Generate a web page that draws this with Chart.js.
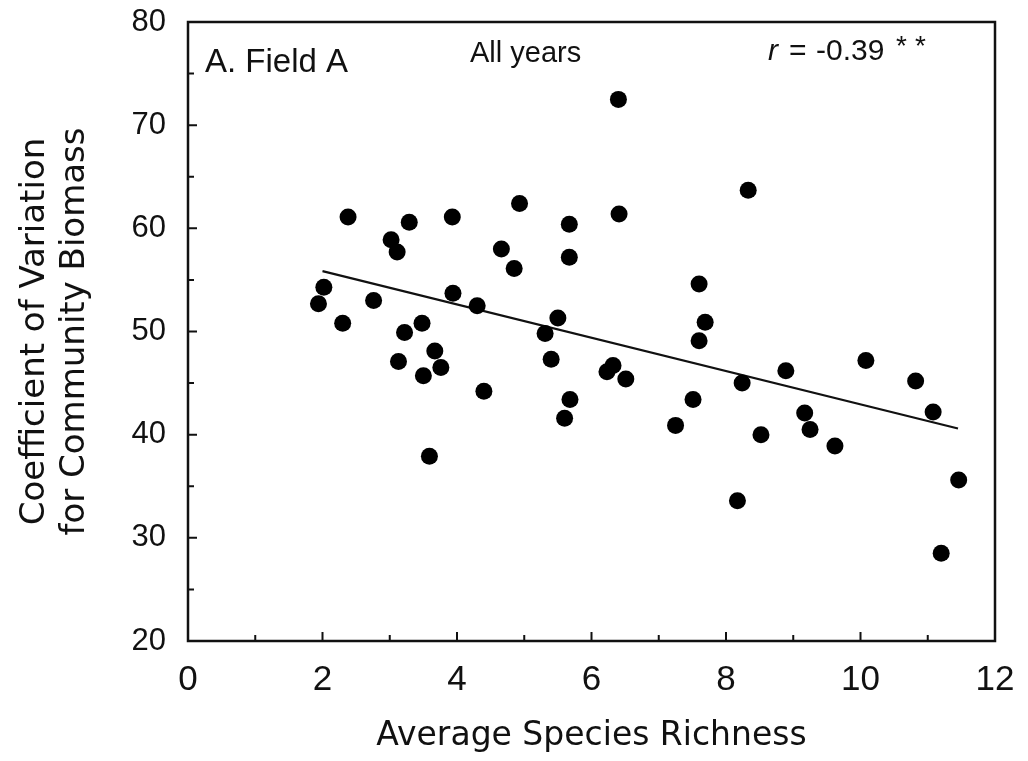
<!DOCTYPE html>
<html>
<head>
<meta charset="utf-8">
<title>Field A - CV vs species richness</title>
<script src="https://cdn.jsdelivr.net/npm/chart.js@4.4.1/dist/chart.umd.min.js"></script>
<style>
    html, body { margin: 0; padding: 0; background: #fff; }
    #wrap { width: 1028px; height: 761px; position: relative; }
</style>
</head>
<body>
<div id="wrap"><canvas id="cvChart"></canvas></div>
<script>
// Plot values, one entry per plot
const richness = [
    1.94, 2.02, 2.30, 2.38, 2.76, 3.02, 3.11, 3.13, 3.22, 3.29,
    3.48, 3.50, 3.59, 3.67, 3.76, 3.93, 3.94, 4.30, 4.40, 4.66,
    4.85, 4.93, 5.31, 5.40, 5.50, 5.60, 5.67, 5.67, 5.68, 6.23,
    6.32, 6.40, 6.41, 6.51, 7.25, 7.51, 7.60, 7.60, 7.69, 8.17,
    8.24, 8.33, 8.52, 8.89, 9.17, 9.25, 9.62, 10.08, 10.82, 11.08,
    11.20, 11.46
];
const cvBiomass = [
    52.7, 54.3, 50.8, 61.1, 53.0, 58.9, 57.7, 47.1, 49.9, 60.6,
    50.8, 45.7, 37.9, 48.1, 46.5, 61.1, 53.7, 52.5, 44.2, 58.0,
    56.1, 62.4, 49.8, 47.3, 51.3, 41.6, 60.4, 57.2, 43.4, 46.1,
    46.7, 72.5, 61.4, 45.4, 40.9, 43.4, 54.6, 49.1, 50.9, 33.6,
    45.0, 63.7, 40.0, 46.2, 42.1, 40.5, 38.9, 47.2, 45.2, 42.2,
    28.5, 35.6
];

// Regression line end points
const fitX = [2.0, 11.45];
const fitY = [55.85, 40.6];

// Labelled ticks (minor ticks in between are unlabelled)
const xTickLabels = [0, 2, 4, 6, 8, 10, 12];
const yTickLabels = [20, 30, 40, 50, 60, 70, 80];

const FONT = '"Liberation Sans", Arial, Helvetica, sans-serif';
const TITLE_FONT = '"DejaVu Sans", "Liberation Sans", sans-serif';

const points = richness.map((x, i) => ({ x: x, y: cvBiomass[i] }));
const fitLine = fitX.map((x, i) => ({ x: x, y: fitY[i] }));

// Box frame plus inward tick marks
const framePlugin = {
    id: 'frame',
    afterDraw(chart) {
        const { ctx, chartArea: a, scales } = chart;
        ctx.save();
        ctx.strokeStyle = '#111';
        ctx.lineWidth = 2.5;
        ctx.strokeRect(a.left, a.top, a.right - a.left, a.bottom - a.top);

        ctx.lineWidth = 2;
        ctx.beginPath();
        scales.x.ticks.forEach(t => {
            const px = scales.x.getPixelForValue(t.value);
            const len = xTickLabels.includes(t.value) ? 9 : 6;
            ctx.moveTo(px, a.bottom);
            ctx.lineTo(px, a.bottom - len);
        });
        scales.y.ticks.forEach(t => {
            const py = scales.y.getPixelForValue(t.value);
            const len = yTickLabels.includes(t.value) ? 9 : 6;
            ctx.moveTo(a.left, py);
            ctx.lineTo(a.left + len, py);
        });
        ctx.stroke();
        ctx.restore();
    }
};

// Panel label, subset note and correlation coefficient
const notesPlugin = {
    id: 'notes',
    afterDraw(chart) {
        const { ctx, chartArea: a } = chart;
        ctx.save();
        ctx.fillStyle = '#111';
        ctx.textBaseline = 'alphabetic';
        ctx.textAlign = 'left';

        ctx.font = '33px ' + FONT;
        ctx.fillText('A. Field A', a.left + 17, a.top + 50);

        ctx.font = '29px ' + FONT;
        ctx.fillText('All years', a.left + 282, a.top + 40);

        const base = a.top + 38;
        ctx.font = 'italic 30px ' + FONT;
        ctx.fillText('r', a.left + 580, base);
        ctx.font = '30px ' + FONT;
        ctx.fillText('=', a.left + 601, base);
        ctx.fillText('-0.39', a.left + 628, base);
        ctx.font = '28px ' + FONT;
        ctx.fillText('*', a.left + 708, base - 5);
        ctx.fillText('*', a.left + 727, base - 5);
        ctx.restore();
    }
};

const ctx = document.getElementById('cvChart').getContext('2d');
const chart = new Chart(ctx, {
    type: 'scatter',
    data: {
        datasets: [
            {
                label: 'Plots',
                data: points,
                backgroundColor: '#000',
                borderColor: '#000',
                pointRadius: 8.5,
                pointHoverRadius: 8.5,
                borderWidth: 0
            },
            {
                label: 'Fit',
                data: fitLine,
                showLine: true,
                borderColor: '#111',
                borderWidth: 2.2,
                pointRadius: 0,
                fill: false
            }
        ]
    },
    options: {
        responsive: true,
        maintainAspectRatio: false,
        devicePixelRatio: 1,
        animation: false,
        layout: { padding: { top: 22, right: 33, left: 0, bottom: 0 } },
        plugins: {
            legend: { display: false },
            tooltip: { enabled: false }
        },
        scales: {
            x: {
                type: 'linear',
                min: 0,
                max: 12,
                // fixed axis band; end labels may overhang the frame
                afterFit: s => { s.height = 120; s.paddingLeft = 0; s.paddingRight = 0; },
                grid: { display: false, drawTicks: false },
                border: { display: false },
                ticks: {
                    stepSize: 1,
                    autoSkip: false,
                    maxRotation: 0,
                    padding: 18,
                    color: '#111',
                    font: { family: FONT, size: 35 },
                    callback: v => xTickLabels.includes(v) ? String(v) : ''
                },
                title: {
                    display: true,
                    text: 'Average Species Richness',
                    color: '#111',
                    font: { family: TITLE_FONT, size: 33, lineHeight: 1.2 },
                    padding: { top: 0, bottom: 5 }
                }
            },
            y: {
                type: 'linear',
                min: 20,
                max: 80,
                afterFit: s => { s.width = 188; s.paddingTop = 0; s.paddingBottom = 0; },
                grid: { display: false, drawTicks: false },
                border: { display: false },
                ticks: {
                    stepSize: 5,
                    autoSkip: false,
                    padding: 22,
                    color: '#111',
                    font: { family: FONT, size: 31 },
                    callback: v => yTickLabels.includes(v) ? String(v) : ''
                },
                title: {
                    display: true,
                    text: ['Coefficient of Variation', 'for Community Biomass'],
                    color: '#111',
                    font: { family: TITLE_FONT, size: 34, lineHeight: 1.176 },
                    padding: { top: 15, bottom: 0 }
                }
            }
        }
    },
    plugins: [framePlugin, notesPlugin]
});
</script>
</body>
</html>
